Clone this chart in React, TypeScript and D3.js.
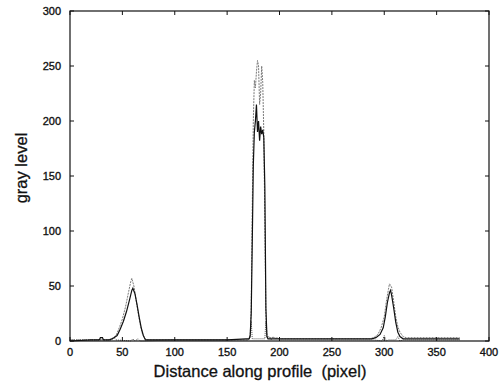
import * as d3 from "d3";
import React from "react";

// profile sample positions (pixel) and gray levels
const solidX = [0, 20, 28, 29, 31, 32, 38, 42, 45, 48, 51, 54, 57, 59, 60, 62, 64, 66, 68, 70, 72, 75, 100, 150, 168, 171, 172, 173, 174, 175, 176, 177, 178, 179, 180, 181, 182, 183, 184, 185, 186, 187, 188, 189, 192, 200, 250, 288, 292, 296, 299, 301, 303, 305, 306, 307, 309, 311, 313, 315, 318, 322, 326, 372];
const solidY = [0, 1, 1, 3, 3, 1, 1, 3, 5, 11, 18, 27, 38, 46, 48, 43, 33, 22, 12, 5, 1, 1, 1, 1, 2, 2, 5, 25, 90, 160, 190, 200, 215, 190, 200, 182, 195, 188, 192, 185, 140, 30, 4, 2, 2, 2, 2, 2, 3, 6, 12, 22, 35, 44, 46, 42, 30, 17, 8, 4, 2, 2, 2, 2];

const dashX = [0, 20, 36, 40, 44, 47, 50, 53, 56, 58, 59, 61, 63, 65, 67, 69, 71, 73, 76, 100, 150, 170, 172, 173, 174, 175, 176, 177, 178, 179, 180, 181, 182, 183, 184, 185, 186, 187, 188, 190, 195, 200, 250, 286, 290, 294, 297, 300, 302, 304, 305, 307, 309, 311, 313, 315, 318, 321, 325, 372];
const dashY = [1, 1, 1, 2, 5, 12, 20, 31, 45, 54, 57, 50, 38, 26, 15, 7, 3, 1, 1, 1, 1, 1, 3, 30, 120, 200, 237, 230, 245, 255, 250, 215, 225, 250, 235, 190, 110, 25, 5, 3, 3, 2, 2, 2, 3, 6, 12, 22, 36, 47, 52, 49, 36, 22, 13, 8, 4, 3, 3, 3];

const dotX = [0, 40, 42, 44, 58, 60, 62, 65, 67, 70, 100, 170, 172, 173, 174, 186, 187, 188, 190, 192, 194, 196, 198, 200, 250, 290, 298, 300, 302, 304, 311, 313, 315, 318, 372];
const dotY = [1, 1, 3, 1, 0, 2, 0, 2, 0, 0, 1, 1, 3, 18, 2, 2, 18, 3, 4, 1, 4, 2, 3, 1, 1, 1, 0, 5, 0, 1, 1, 4, 0, 1, 1];

const xTicks = [0, 50, 100, 150, 200, 250, 300, 350, 400];
const yTicks = [0, 50, 100, 150, 200, 250, 300];

const W = 500;
const H = 386;
const left = 70;
const right = 489;
const top = 11;
const bottom = 341;
const font = "'Liberation Sans', Arial, sans-serif";

export default function App() {
  const x = d3.scaleLinear().domain([0, 400]).range([left, right]);
  const y = d3.scaleLinear().domain([0, 300]).range([bottom, top]);

  const pts = (xs: number[], ys: number[]) => xs.map((v, i) => [v, ys[i]] as [number, number]);
  const line = d3
    .line<[number, number]>()
    .x((d) => x(d[0]))
    .y((d) => y(d[1]));

  return (
    <svg width={W} height={H} style={{ position: "absolute", left: 0, top: 0, background: "#fff" }}>
      <path d={line(pts(dotX, dotY)) ?? ""} fill="none" stroke="#555" strokeWidth={1} strokeDasharray="1,1" />
      <path d={line(pts(dashX, dashY)) ?? ""} fill="none" stroke="#7a7a7a" strokeWidth={1} strokeDasharray="2,1" />
      <path d={line(pts(solidX, solidY)) ?? ""} fill="none" stroke="#111" strokeWidth={1.2} />

      <rect x={left} y={top} width={right - left} height={bottom - top} fill="none" stroke="#111" strokeWidth={1.2} />

      {xTicks.map((t) => (
        <g key={"x" + t}>
          <line x1={x(t)} x2={x(t)} y1={bottom} y2={bottom - 4} stroke="#111" />
          <line x1={x(t)} x2={x(t)} y1={top} y2={top + 4} stroke="#111" />
          <text x={x(t)} y={356} textAnchor="middle" fontFamily={font} fontSize={11} fill="#111" stroke="#111" strokeWidth={0.35}>
            {t}
          </text>
        </g>
      ))}
      {yTicks.map((t) => (
        <g key={"y" + t}>
          <line x1={left} x2={left + 4} y1={y(t)} y2={y(t)} stroke="#111" />
          <line x1={right} x2={right - 4} y1={y(t)} y2={y(t)} stroke="#111" />
          <text x={61} y={y(t)} dy="0.35em" textAnchor="end" fontFamily={font} fontSize={11} fill="#111" stroke="#111" strokeWidth={0.35}>
            {t}
          </text>
        </g>
      ))}

      <text x={260} y={377} textAnchor="middle" fontFamily={font} fontSize={16.5} fill="#111" stroke="#111" strokeWidth={0.3} style={{ whiteSpace: "pre" }}>
        Distance along profile  (pixel)
      </text>
      <text
        transform={`translate(27,168) rotate(-90)`}
        textAnchor="middle"
        fontFamily={font}
        fontSize={16.5}
        fill="#111"
        stroke="#111"
        strokeWidth={0.3}
      >
        gray level
      </text>
    </svg>
  );
}
